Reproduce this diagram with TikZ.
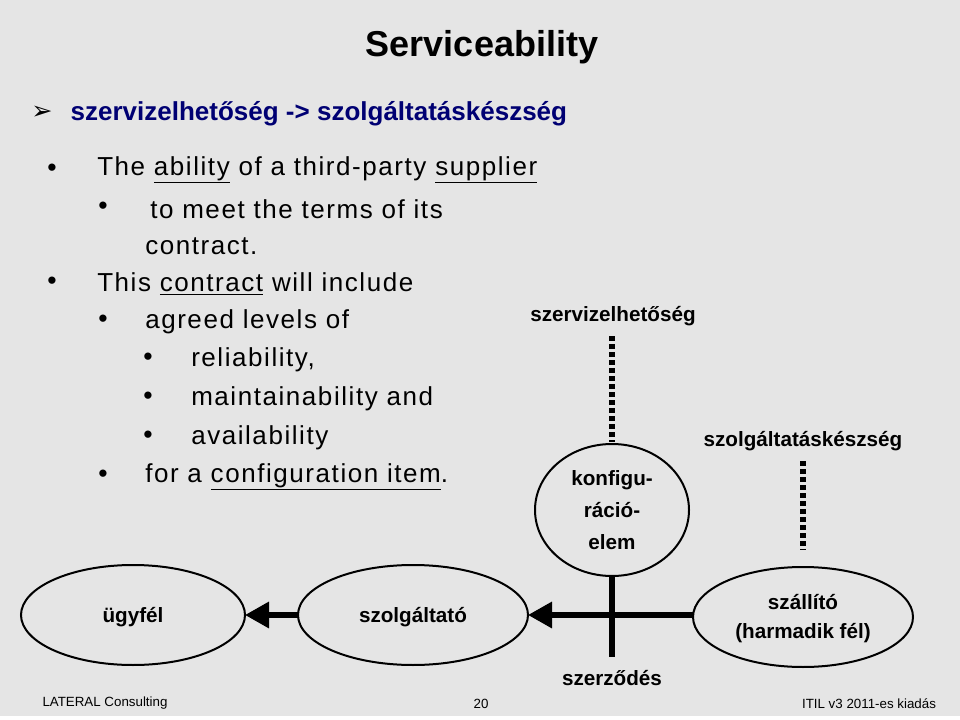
\documentclass[tikz,border=0pt]{standalone}
\usepackage{fontspec}
\setmainfont{Liberation Sans}
\newfontfamily\spaced[LetterSpace=6]{Liberation Sans}
\newfontfamily\djvfont{DejaVu Sans}
\usetikzlibrary{arrows.meta}
\begin{document}
\begin{tikzpicture}[x=0.75pt,y=-0.75pt,
  body/.style={anchor=west,font=\spaced\fontsize{19.5}{21}\selectfont,inner sep=0},
  bul/.style={font=\fontsize{20}{22}\selectfont,inner sep=0},
  lbl/.style={font=\bfseries\fontsize{15.5}{17}\selectfont,inner sep=0},
  ell/.style={draw,line width=1.5pt},
  conn/.style={line width=4pt,-{Triangle[length=18pt,width=19pt]}},
  dots/.style={line width=4pt,dash pattern=on 4pt off 2pt}]
\fill[white] (0,0) rectangle (960,720);
\fill[black!10] (0,0) rectangle (960,716);
\node[font=\bfseries\fontsize{27}{30}\selectfont] (title) at (482,47) {Serviceability};
\node[font=\djvfont\fontsize{19}{21}\selectfont] (arr) at (42,113) {➢};
\node[anchor=west,font=\bfseries\fontsize{19.5}{22}\selectfont,text=blue!45!black] (sub) at (66,114) {szervizelhetőség -> szolgáltatáskészség};
\node[bul] (b1) at (52,170) {•};
\node[body] (t1) at (97,170) {The \underline{ability} of a third-party \underline{supplier}};
\node[bul] (b2) at (103,208) {•};
\node[body] (t2) at (150,209) {to meet the terms of its};
\node[body] (t3) at (145,246) {contract.};
\node[bul] (b3) at (52,283) {•};
\node[body] (t4) at (97,284) {This \underline{contract} will include};
\node[bul] (b4) at (103,321) {•};
\node[body] (t5) at (145,322) {agreed levels of};
\node[bul] (b5) at (148,359) {•};
\node[body] (t6) at (191,360) {reliability,};
\node[bul] (b6) at (148,398) {•};
\node[body] (t7) at (191,399) {maintainability and};
\node[bul] (b7) at (148,437) {•};
\node[body] (t8) at (191,438) {availability};
\node[bul] (b8) at (103,476) {•};
\node[body] (t9) at (145,477) {for a \underline{configuration item}.};
% diagram
\draw[ell] (133,615) ellipse [x radius=112,y radius=50];
\coordinate (ugR) at (245,615);
\node[lbl] (ug) at (133,617) {ügyfél};
\draw[ell] (413,615) ellipse [x radius=115,y radius=50];
\coordinate (szL) at (298,615); \coordinate (szR) at (528,615);
\node[lbl] (sz) at (413,617) {szolgáltató};
\draw[ell] (803,617) ellipse [x radius=110,y radius=50];
\coordinate (saL) at (693,615);
\node[lbl] (sa1) at (803,602) {szállító};
\node[lbl] (sa2) at (803,633) {(harmadik fél)};
\draw[ell] (612,510) ellipse [x radius=77,y radius=66];
\coordinate (kB) at (612,576); \coordinate (kE) at (612,657);
\node[lbl] (k1) at (612,480) {konfigu-};
\node[lbl] (k2) at (612,510) {ráció-};
\node[lbl] (k3) at (612,542) {elem};
\draw[conn] (szL) -- (ugR);
\draw[conn] (saL) -- (szR);
\draw[line width=4pt] (kB) -- (kE);
\node[lbl] (szd) at (612,678) {szerződés};
\node[lbl] (sv) at (613,316) {szervizelhetőség};
\coordinate (d1a) at (612,336); \coordinate (d1b) at (612,442);
\draw[dots] (d1a) -- (d1b);
\node[lbl] (sk) at (803,441) {szolgáltatáskészség};
\coordinate (d2a) at (803,461); \coordinate (d2b) at (803,550);
\draw[dots] (d2a) -- (d2b);
% footer
\node[font=\fontsize{10}{12}\selectfont] (f1) at (105,703) {LATERAL Consulting};
\node[font=\fontsize{10}{12}\selectfont] (f2) at (481,704) {20};
\node[font=\fontsize{10}{12}\selectfont] (f3) at (869,704) {ITIL v3 2011-es kiadás};
\end{tikzpicture}
\end{document}
